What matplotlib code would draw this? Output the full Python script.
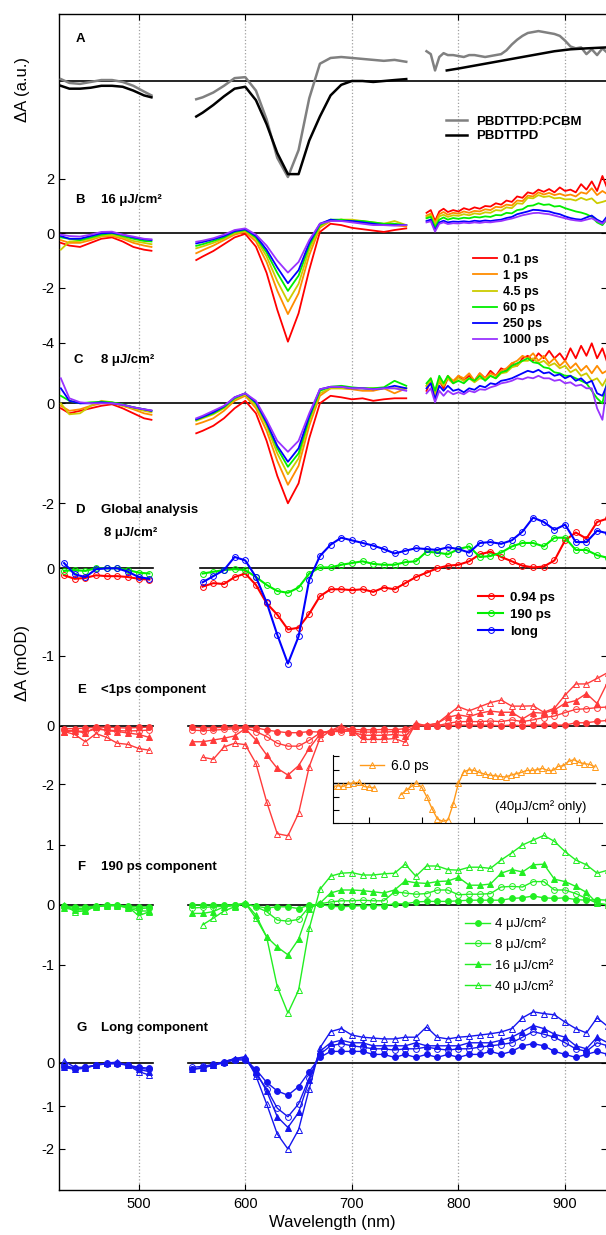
import matplotlib.pyplot as plt

plt.rcParams['font.family'] = ['Liberation Sans', 'DejaVu Sans']
plt.rcParams['axes.unicode_minus'] = False

W, H = 606, 1235
BOX_L, BOX_R, BOX_T, BOX_B = 58.5, 607, 14, 1190
XLIM = (424.8, 939.3)


def fx(px):
    return px / W


def fy(py):
    return 1 - py / H


# ---------------- data ----------------
# measured spectra (B, C) and steady-state (A)
w1 = [427, 435, 445, 455, 465, 475, 485, 495, 505, 512]
w2 = [554, 560, 570, 580, 590, 600, 610, 620, 630, 640, 650, 660, 670, 680,
      690, 700, 710, 720, 730, 740, 751]
w3 = [770, 774, 778, 782, 786, 790, 795, 800, 805, 810, 815, 820, 825, 830,
      835, 840, 845, 850, 855, 860, 865, 870, 875, 880, 885, 890, 895, 900,
      905, 910, 915, 920, 925, 930, 935, 939]
w3_black = [789, 800, 815, 830, 845, 860, 875, 890, 905, 920, 939]

a_blend = [[0.02, -0.02, -0.03, -0.01, 0.01, 0.01, -0.01, -0.05, -0.11, -0.15],
           [-0.19, -0.17, -0.12, -0.05, 0.03, 0.04, -0.1, -0.4, -0.8, -1.0, -0.72,
            -0.18, 0.18, 0.24, 0.25, 0.24, 0.23, 0.22, 0.21, 0.22, 0.2],
           [0.31, 0.28, 0.11, 0.25, 0.29, 0.27, 0.27, 0.26, 0.25, 0.27, 0.27, 0.26,
            0.25, 0.26, 0.27, 0.28, 0.32, 0.38, 0.43, 0.47, 0.5, 0.51, 0.52, 0.51,
            0.5, 0.49, 0.47, 0.42, 0.36, 0.34, 0.35, 0.28, 0.33, 0.27, 0.34, 0.3]]
a_pure = [[-0.05, -0.08, -0.08, -0.07, -0.05, -0.05, -0.06, -0.1, -0.15, -0.17],
          [-0.37, -0.33, -0.25, -0.16, -0.08, -0.06, -0.2, -0.45, -0.75, -0.97, -0.97,
           -0.62, -0.37, -0.15, -0.04, 0.0, 0.0, -0.01, 0.0, 0.01, 0.02],
          [0.11, 0.13, 0.16, 0.19, 0.22, 0.25, 0.28, 0.31, 0.33, 0.34, 0.35]]

delays = ['0.1 ps', '1 ps', '4.5 ps', '60 ps', '250 ps', '1000 ps']
delay_colors = ['#ff0000', '#ff8c00', '#cccc00', '#00ee00', '#0000ff', '#9933ff']

b_spectra = [
    [[-0.35, -0.45, -0.5, -0.35, -0.2, -0.15, -0.3, -0.5, -0.6, -0.64],
     [-0.98, -0.85, -0.65, -0.4, -0.15, -0.02, -0.49, -1.45, -2.8, -3.97, -2.93,
      -1.34, 0.05, 0.35, 0.3, 0.2, 0.15, 0.1, 0.05, 0.12, 0.18],
     [0.75, 0.85, 0.45, 0.8, 0.9, 0.78, 0.85, 0.8, 0.92, 0.86, 0.95, 0.9, 1.0,
      0.98, 1.1, 1.05, 1.2, 1.15, 1.35, 1.3, 1.5, 1.45, 1.6, 1.52, 1.62, 1.5,
      1.68, 1.55, 1.6, 1.5, 1.8, 1.6, 1.9, 1.55, 2.1, 1.7]],
    [[-0.25, -0.35, -0.35, -0.25, -0.12, -0.1, -0.2, -0.35, -0.45, -0.5],
     [-0.73, -0.62, -0.45, -0.25, -0.05, 0.05, -0.3, -1.05, -2.1, -2.96, -2.2,
      -0.8, 0.2, 0.45, 0.5, 0.45, 0.4, 0.35, 0.3, 0.3, 0.25],
     [0.65, 0.72, 0.38, 0.7, 0.78, 0.68, 0.75, 0.72, 0.8, 0.75, 0.82, 0.8, 0.88,
      0.85, 0.97, 0.95, 1.05, 1.02, 1.2, 1.18, 1.38, 1.35, 1.5, 1.42, 1.48, 1.4,
      1.45, 1.38, 1.42, 1.35, 1.5, 1.45, 1.65, 1.4, 1.55, 1.45]],
    [[-0.6, -0.3, -0.28, -0.2, -0.1, -0.05, -0.15, -0.28, -0.35, -0.4],
     [-0.55, -0.48, -0.35, -0.2, 0.0, 0.1, -0.2, -0.85, -1.75, -2.5, -1.85,
      -0.6, 0.25, 0.45, 0.5, 0.5, 0.45, 0.4, 0.35, 0.45, 0.3],
     [0.6, 0.66, 0.32, 0.62, 0.68, 0.6, 0.66, 0.64, 0.7, 0.66, 0.73, 0.7, 0.77,
      0.75, 0.85, 0.83, 0.95, 0.92, 1.1, 1.08, 1.3, 1.28, 1.4, 1.33, 1.36, 1.28,
      1.3, 1.24, 1.25, 1.2, 1.3, 1.22, 1.28, 1.1, 1.15, 1.2]],
    [[-0.15, -0.2, -0.25, -0.15, -0.05, 0.0, -0.1, -0.2, -0.28, -0.3],
     [-0.46, -0.4, -0.28, -0.15, 0.05, 0.12, -0.15, -0.7, -1.45, -2.11, -1.55,
      -0.45, 0.3, 0.5, 0.5, 0.45, 0.45, 0.4, 0.35, 0.35, 0.3],
     [0.55, 0.6, 0.22, 0.5, 0.58, 0.5, 0.56, 0.53, 0.57, 0.55, 0.6, 0.58, 0.62,
      0.6, 0.67, 0.66, 0.75, 0.73, 0.85, 0.88, 1.0, 1.02, 1.1, 1.04, 1.06, 0.98,
      1.0, 0.92, 0.86, 0.8, 0.76, 0.7, 0.6, 0.4, 0.3, 0.5]],
    [[-0.1, -0.2, -0.2, -0.1, 0.0, 0.02, -0.05, -0.15, -0.22, -0.25],
     [-0.37, -0.32, -0.22, -0.1, 0.08, 0.15, -0.1, -0.6, -1.25, -1.83, -1.35,
      -0.35, 0.35, 0.5, 0.45, 0.45, 0.4, 0.35, 0.3, 0.3, 0.3],
     [0.45, 0.5, 0.12, 0.4, 0.46, 0.4, 0.43, 0.42, 0.44, 0.42, 0.46, 0.44, 0.47,
      0.45, 0.48, 0.5, 0.56, 0.6, 0.7, 0.75, 0.8, 0.86, 0.85, 0.82, 0.8, 0.74,
      0.7, 0.62, 0.56, 0.52, 0.5, 0.58, 0.65, 0.5, 0.4, 0.6]],
    [[-0.05, -0.1, -0.12, -0.05, 0.05, 0.06, -0.05, -0.12, -0.2, -0.22],
     [-0.31, -0.27, -0.18, -0.05, 0.12, 0.18, -0.05, -0.45, -1.0, -1.44, -1.05,
      -0.25, 0.35, 0.45, 0.45, 0.4, 0.35, 0.3, 0.3, 0.28, 0.3],
     [0.4, 0.44, 0.06, 0.35, 0.4, 0.34, 0.37, 0.36, 0.39, 0.37, 0.4, 0.38, 0.41,
      0.4, 0.43, 0.45, 0.5, 0.54, 0.6, 0.66, 0.7, 0.74, 0.75, 0.72, 0.7, 0.65,
      0.6, 0.55, 0.5, 0.47, 0.45, 0.5, 0.55, 0.45, 0.35, 0.5]],
]

c_spectra = [
    [[-0.1, -0.2, -0.15, -0.1, -0.05, -0.02, -0.1, -0.2, -0.3, -0.33],
     [-0.6, -0.55, -0.45, -0.3, -0.1, 0.05, -0.2, -0.75, -1.45, -2.0, -1.6,
      -0.7, 0.0, 0.15, 0.12, 0.08, 0.1, 0.05, 0.08, 0.1, 0.1],
     [0.25, 0.45, 0.15, 0.45, 0.3, 0.5, 0.4, 0.55, 0.45, 0.55, 0.45, 0.6, 0.5,
      0.65, 0.55, 0.7, 0.65, 0.8, 0.75, 0.9, 0.95, 0.85, 1.0, 0.9, 1.05, 0.9,
      1.0, 0.85, 1.1, 0.9, 1.15, 0.95, 1.2, 0.9, 1.1, 0.85]],
    [[-0.05, -0.15, -0.12, -0.05, 0.0, 0.0, -0.05, -0.12, -0.2, -0.23],
     [-0.42, -0.38, -0.3, -0.15, 0.05, 0.15, -0.1, -0.55, -1.15, -1.63, -1.25,
      -0.45, 0.15, 0.3, 0.3, 0.28, 0.25, 0.25, 0.3, 0.2, 0.3],
     [0.35, 0.5, 0.2, 0.5, 0.35, 0.55, 0.45, 0.55, 0.5, 0.6, 0.45, 0.6, 0.5,
      0.6, 0.55, 0.65, 0.7, 0.8, 0.85, 0.95, 0.9, 1.0, 0.85, 0.95, 0.8, 0.9,
      0.75, 0.85, 0.7, 0.8, 0.65, 0.75, 0.6, 0.75, 0.6, 0.65]],
    [[0.0, -0.22, -0.2, -0.05, 0.05, 0.02, -0.05, -0.1, -0.15, -0.18],
     [-0.35, -0.3, -0.22, -0.1, 0.08, 0.18, -0.05, -0.45, -1.0, -1.42, -1.1,
      -0.35, 0.2, 0.3, 0.3, 0.3, 0.3, 0.3, 0.3, 0.3, 0.3],
     [0.35, 0.45, 0.15, 0.45, 0.35, 0.5, 0.4, 0.5, 0.45, 0.5, 0.42, 0.5, 0.48,
      0.55, 0.5, 0.6, 0.62, 0.72, 0.75, 0.85, 0.85, 0.9, 0.8, 0.85, 0.75, 0.8,
      0.7, 0.75, 0.62, 0.68, 0.55, 0.6, 0.45, 0.5, 0.35, 0.5]],
    [[0.15, 0.05, 0.0, 0.02, 0.03, 0.02, -0.02, -0.08, -0.12, -0.15],
     [-0.33, -0.28, -0.2, -0.08, 0.1, 0.2, 0.0, -0.4, -0.9, -1.27, -1.0,
      -0.3, 0.25, 0.33, 0.35, 0.32, 0.3, 0.3, 0.32, 0.45, 0.35],
     [0.4, 0.5, 0.25, 0.55, 0.4, 0.55, 0.4, 0.45, 0.4, 0.5, 0.45, 0.55, 0.45,
      0.55, 0.5, 0.62, 0.65, 0.75, 0.8, 0.85, 0.9, 0.82, 0.8, 0.72, 0.7, 0.62,
      0.6, 0.55, 0.55, 0.5, 0.45, 0.4, 0.25, 0.1, 0.0, 0.4]],
    [[0.3, 0.05, 0.0, 0.0, 0.02, 0.0, -0.03, -0.08, -0.12, -0.15],
     [-0.32, -0.27, -0.18, -0.06, 0.12, 0.2, 0.02, -0.38, -0.85, -1.17, -0.9,
      -0.25, 0.28, 0.33, 0.33, 0.3, 0.3, 0.28, 0.3, 0.35, 0.3],
     [0.3, 0.4, 0.08, 0.35, 0.25, 0.35, 0.25, 0.28, 0.22, 0.3, 0.27, 0.35, 0.32,
      0.4, 0.38, 0.45, 0.47, 0.5, 0.55, 0.6, 0.65, 0.62, 0.67, 0.6, 0.62, 0.55,
      0.58, 0.5, 0.55, 0.45, 0.5, 0.4, 0.45, 0.2, 0.15, 0.35]],
    [[0.5, 0.1, 0.02, 0.0, 0.0, 0.0, -0.03, -0.08, -0.12, -0.14],
     [-0.3, -0.25, -0.15, -0.05, 0.12, 0.2, 0.05, -0.33, -0.75, -0.97, -0.75,
      -0.2, 0.28, 0.33, 0.33, 0.3, 0.3, 0.28, 0.3, 0.3, 0.25],
     [0.2, 0.3, 0.02, 0.25, 0.15, 0.25, 0.18, 0.22, 0.18, 0.25, 0.22, 0.28, 0.27,
      0.32, 0.35, 0.4, 0.42, 0.45, 0.5, 0.48, 0.52, 0.5, 0.55, 0.5, 0.5, 0.45,
      0.47, 0.4, 0.42, 0.35, 0.37, 0.3, 0.3, -0.1, -0.33, 0.3]],
]

# global analysis (D) and fluence series (E, F, G)
g1 = [430, 440, 450, 460, 470, 480, 490, 500, 510]
gd2 = [560, 570, 580, 590, 600, 610, 620, 630, 640, 650, 660, 670, 680, 690,
       700, 710, 720, 730, 740, 750, 760, 770, 780, 790, 800, 810, 820, 830,
       840, 850, 860, 870, 880, 890, 900, 910, 920, 930, 940]
g2 = [550] + gd2

das_names = ['0.94 ps', '190 ps', 'long']
das_colors = ['#ff0000', '#00ee00', '#0000ff']
das1 = [[-0.08, -0.12, -0.11, -0.08, -0.09, -0.09, -0.1, -0.12, -0.13],
        [-0.03, -0.02, -0.03, -0.0, -0.0, -0.0, -0.02, -0.05, -0.06],
        [0.06, -0.07, -0.1, -0.01, 0.0, 0.0, -0.04, -0.1, -0.12]]
das2 = [[-0.21, -0.17, -0.18, -0.1, -0.06, -0.19, -0.4, -0.53, -0.7, -0.68,
         -0.52, -0.32, -0.24, -0.24, -0.25, -0.24, -0.27, -0.22, -0.24, -0.17,
         -0.1, -0.05, 0.0, 0.03, 0.04, 0.08, 0.16, 0.19, 0.13, 0.08, 0.03, 0.01,
         0.02, 0.09, 0.32, 0.41, 0.34, 0.53, 0.57],
        [-0.06, -0.04, -0.02, -0.01, -0.02, -0.1, -0.19, -0.26, -0.28, -0.22,
         -0.06, 0.01, 0.01, 0.04, 0.06, 0.08, 0.05, 0.04, 0.04, 0.07, 0.08, 0.19,
         0.18, 0.16, 0.22, 0.25, 0.13, 0.14, 0.18, 0.25, 0.29, 0.29, 0.25, 0.35,
         0.35, 0.21, 0.21, 0.15, 0.12],
        [-0.16, -0.09, -0.02, 0.13, 0.09, -0.1, -0.39, -0.76, -1.09, -0.78,
         -0.13, 0.14, 0.27, 0.35, 0.32, 0.29, 0.26, 0.22, 0.17, 0.2, 0.23, 0.22,
         0.21, 0.24, 0.22, 0.18, 0.29, 0.3, 0.28, 0.32, 0.42, 0.58, 0.53, 0.44,
         0.5, 0.3, 0.3, 0.43, 0.4]]

fluences = ['4 \u03bcJ/cm\u00b2', '8 \u03bcJ/cm\u00b2', '16 \u03bcJ/cm\u00b2',
            '40 \u03bcJ/cm\u00b2']

e1 = [[-0.1, -0.1, -0.08, -0.05, -0.05, -0.07, -0.08, -0.06, -0.05],
      [-0.15, -0.18, -0.2, -0.12, -0.15, -0.17, -0.18, -0.17, -0.15],
      [-0.2, -0.18, -0.25, -0.05, -0.17, -0.2, -0.25, -0.3, -0.4],
      [-0.2, -0.3, -0.55, -0.27, -0.4, -0.6, -0.64, -0.78, -0.84]]
e2 = [[-0.05, -0.07, -0.07, -0.06, -0.05, -0.05, -0.07, -0.15, -0.2, -0.24,
       -0.24, -0.2, -0.22, -0.2, -0.15, -0.13, -0.14, -0.14, -0.13, -0.14,
       -0.1, 0.02, 0.0, 0.0, 0.0, 0.02, 0.02, 0.02, 0.02, 0.0, 0.02, 0.0, 0.02,
       0.02, 0.02, 0.02, 0.1, 0.1, 0.15, 0.18],
      [-0.15, -0.17, -0.15, -0.13, -0.1, -0.07, -0.2, -0.37, -0.6, -0.7, -0.7,
       -0.5, -0.25, -0.2, -0.2, -0.18, -0.22, -0.22, -0.22, -0.2, -0.22, 0.0,
       0.0, 0.0, 0.08, 0.14, 0.14, 0.14, 0.16, 0.14, 0.2, 0.14, 0.2, 0.28, 0.33,
       0.45, 0.56, 0.58, 0.62, 0.64],
      [-0.55, -0.55, -0.49, -0.43, -0.35, -0.1, -0.49, -1.0, -1.46, -1.69,
       -1.37, -0.77, -0.3, -0.15, -0.1, -0.2, -0.33, -0.33, -0.33, -0.3, -0.35,
       0.0, 0.02, 0.08, 0.29, 0.37, 0.31, 0.43, 0.5, 0.46, 0.46, 0.23, 0.45,
       0.43, 0.54, 0.77, 0.86, 1.1, 0.76, 1.5],
      [-1.08, -1.15, -0.73, -0.6, -0.65, -1.29, -2.6, -3.7, -3.77, -3.0, -1.4,
       -0.43, -0.17, 0.0, -0.15, -0.47, -0.47, -0.47, -0.44, -0.57, 0.08, 0.0,
       0.08, 0.37, 0.65, 0.51, 0.65, 0.79, 0.88, 0.67, 0.67, 0.68, 0.46, 0.6,
       1.05, 1.43, 1.43, 1.62, 1.82]]

inset_w1 = [430, 440, 450, 460, 470, 480, 490, 500, 510]
inset_w2 = [560, 570, 580, 590, 600, 610, 620, 630, 640, 650, 660, 670, 680,
            690, 700, 710, 720, 730, 740, 750, 760, 770, 780, 790, 800, 810,
            820, 830, 840, 850, 860, 870, 880, 890, 900, 910, 920, 930]
inset1 = [-0.25, -0.2, -0.25, -0.05, 0.0, 0.07, -0.25, -0.3, -0.35]
inset2 = [-0.87, -0.55, -0.25, 0.0, -0.3, -1.05, -1.93, -2.68, -2.85, -2.75,
          -1.55, 0.0, 0.83, 1.0, 0.95, 0.8, 0.67, 0.6, 0.55, 0.5, 0.45, 0.6,
          0.7, 0.8, 0.95, 0.95, 1.0, 1.1, 0.95, 0.95, 1.25, 1.3, 1.63, 1.75,
          1.55, 1.45, 1.4, 1.22]

f1 = [[-0.02, -0.03, -0.03, -0.02, 0.0, 0.0, -0.02, -0.03, -0.03],
      [-0.03, -0.06, -0.06, -0.03, -0.01, -0.01, -0.04, -0.06, -0.05],
      [-0.05, -0.08, -0.08, -0.03, -0.01, -0.01, -0.05, -0.1, -0.1],
      [0.0, -0.11, -0.1, -0.02, 0.0, 0.0, -0.03, -0.18, -0.11]]
f2 = [[0.0, 0.0, 0.0, 0.0, 0.0, 0.02, -0.02, -0.05, -0.03, -0.03, -0.06, 0.0,
       0.01, -0.02, -0.03, -0.02, -0.01, -0.01, -0.01, 0.02, 0.02, 0.05, 0.06,
       0.06, 0.06, 0.07, 0.08, 0.08, 0.08, 0.08, 0.11, 0.12, 0.15, 0.12, 0.11,
       0.12, 0.09, 0.08, 0.09, 0.08],
      [-0.05, -0.04, -0.03, -0.02, 0.0, 0.02, -0.03, -0.11, -0.25, -0.27,
       -0.24, -0.03, 0.02, 0.05, 0.07, 0.07, 0.08, 0.07, 0.07, 0.22, 0.2, 0.18,
       0.19, 0.25, 0.25, 0.17, 0.18, 0.18, 0.19, 0.3, 0.31, 0.3, 0.39, 0.39,
       0.25, 0.25, 0.19, 0.11, 0.03, 0.0],
      [-0.14, -0.14, -0.11, -0.03, -0.01, 0.04, -0.17, -0.53, -0.7, -0.83,
       -0.57, -0.06, 0.03, 0.2, 0.25, 0.25, 0.24, 0.22, 0.2, 0.25, 0.4, 0.37,
       0.36, 0.39, 0.4, 0.46, 0.33, 0.33, 0.35, 0.53, 0.59, 0.55, 0.67, 0.68,
       0.43, 0.39, 0.31, 0.21, 0.03, 0.0],
      [-0.33, -0.22, -0.1, -0.03, 0.03, -0.22, -0.53, -1.36, -1.8, -1.42,
       -0.39, 0.26, 0.48, 0.53, 0.54, 0.5, 0.5, 0.52, 0.53, 0.68, 0.48, 0.65,
       0.65, 0.59, 0.58, 0.63, 0.63, 0.61, 0.75, 0.87, 1.0, 1.08, 1.16, 1.06,
       0.89, 0.75, 0.67, 0.53, 0.58]]

g_1 = [[-0.1, -0.12, -0.1, -0.05, -0.02, -0.02, -0.05, -0.1, -0.12],
       [-0.05, -0.12, -0.1, -0.05, 0.0, 0.0, -0.05, -0.12, -0.15],
       [-0.1, -0.15, -0.12, -0.05, 0.0, 0.0, -0.05, -0.15, -0.2],
       [0.05, -0.1, -0.1, -0.05, 0.0, 0.02, -0.05, -0.2, -0.28]]
g_2 = [[-0.15, -0.1, -0.05, 0.0, 0.07, 0.07, -0.15, -0.45, -0.65, -0.75, -0.55,
        -0.2, 0.13, 0.27, 0.27, 0.27, 0.27, 0.2, 0.2, 0.13, 0.2, 0.13, 0.2, 0.13,
        0.2, 0.13, 0.2, 0.2, 0.27, 0.2, 0.27, 0.4, 0.45, 0.4, 0.27, 0.2, 0.13,
        0.2, 0.27, 0.2],
       [-0.1, -0.08, -0.03, 0.03, 0.08, 0.1, -0.25, -0.6, -1.05, -1.25, -0.95,
        -0.35, 0.2, 0.4, 0.45, 0.4, 0.37, 0.33, 0.33, 0.3, 0.33, 0.33, 0.37,
        0.33, 0.3, 0.33, 0.33, 0.37, 0.4, 0.43, 0.47, 0.6, 0.73, 0.67, 0.6,
        0.47, 0.33, 0.27, 0.47, 0.4],
       [-0.15, -0.12, -0.05, 0.03, 0.1, 0.13, -0.2, -0.65, -1.25, -1.5, -1.15,
        -0.4, 0.27, 0.47, 0.53, 0.47, 0.47, 0.4, 0.4, 0.4, 0.4, 0.47, 0.4, 0.4,
        0.4, 0.4, 0.47, 0.47, 0.47, 0.53, 0.6, 0.73, 0.87, 0.8, 0.67, 0.6, 0.4,
        0.33, 0.6, 0.47],
       [-0.1, -0.05, 0.03, 0.1, 0.15, -0.3, -0.95, -1.65, -2.0, -1.55, -0.6,
        0.35, 0.73, 0.8, 0.65, 0.6, 0.58, 0.56, 0.56, 0.6, 0.6, 0.84, 0.6, 0.56,
        0.6, 0.62, 0.65, 0.68, 0.72, 0.8, 1.05, 1.19, 1.15, 1.12, 0.95, 0.8,
        0.7, 1.05, 0.85]]

# ---------------- figure ----------------
fig = plt.figure(figsize=(W / 100, H / 100), dpi=100)
rect = [fx(BOX_L), fy(BOX_B), fx(BOX_R - BOX_L), (BOX_B - BOX_T) / H]

ax0 = fig.add_axes(rect)
ax0.set_xlim(XLIM)
ax0.set_ylim(0, 1)
ax0.set_yticks([])
ax0.set_xticks([500, 600, 700, 800, 900])
ax0.tick_params(axis='x', direction='in', top=True, length=4, labelsize=10.5, pad=5)
ax0.grid(axis='x', linestyle=':', color='#a0a0a0', linewidth=0.9)
ax0.set_xlabel('Wavelength (nm)', fontsize=12, labelpad=3)
for s in ax0.spines.values():
    s.set_linewidth(1.0)


def panel(y0, scale, ticks):
    ax = fig.add_axes(rect, sharex=ax0)
    ax.patch.set_visible(False)
    for s in ax.spines.values():
        s.set_visible(False)
    ax.set_ylim(-(BOX_B - y0) / scale, (y0 - BOX_T) / scale)
    ax.set_yticks(ticks)
    ax.tick_params(axis='y', direction='in', right=True, length=4, labelsize=10.5, pad=3)
    ax.tick_params(axis='x', bottom=False, labelbottom=False)
    return ax


def zero(ax, spans, lw=1.2, color='k'):
    for a, b in spans:
        ax.plot([a, b], [0, 0], color=color, lw=lw, zorder=1)


full = [(XLIM[0], XLIM[1])]
split = [(427.5, 513.5), (546, XLIM[1])]

# A
axA = panel(81, 96, [])
zero(axA, full)
for segs, ws, col, lab in [(a_blend, [w1, w2, w3], '#808080', 'PBDTTPD:PCBM'),
                           (a_pure, [w1, w2, w3_black], '#000000', 'PBDTTPD')]:
    for i, (w, v) in enumerate(zip(ws, segs)):
        axA.plot(w, v, color=col, lw=1.8, label=lab if i == 0 else None)
axA.legend(loc='center left', bbox_to_anchor=(fx(446), fy(129)),
           bbox_transform=fig.transFigure, frameon=False, borderpad=0,
           borderaxespad=0, handlelength=1.6, handletextpad=0.7, labelspacing=0.15,
           prop={'weight': 'bold', 'size': 9.5})

# B and C
for y0, scale, ticks, data in [(233.3, 27.3, [2, 0, -2, -4], b_spectra),
                               (403.3, 50, [0, -2], c_spectra)]:
    ax = panel(y0, scale, ticks)
    zero(ax, full)
    for k, segs in enumerate(data):
        for i, (w, v) in enumerate(zip([w1, w2, w3], segs)):
            ax.plot(w, v, color=delay_colors[k], lw=1.3,
                    label=delays[k] if i == 0 else None)
    if data is b_spectra:
        ax.legend(loc='center left', bbox_to_anchor=(fx(473), fy(300)),
                  bbox_transform=fig.transFigure, frameon=False, borderpad=0,
                  borderaxespad=0, handlelength=1.9, handletextpad=0.5,
                  labelspacing=0.33, prop={'weight': 'bold', 'size': 9})

# D
axD = panel(568.3, 87.4, [0, -1])
zero(axD, [(427.5, 513.5), (557.5, XLIM[1])])
for k in range(3):
    axD.plot(g1, das1[k], color=das_colors[k], lw=1.5, marker='o', ms=4.2,
             mfc='none', mew=0.7)
    axD.plot(gd2, das2[k], color=das_colors[k], lw=1.5, marker='o', ms=4.2,
             mfc='none', mew=0.7, label=das_names[k])
axD.legend(loc='center left', bbox_to_anchor=(fx(478), fy(614.5)),
           bbox_transform=fig.transFigure, frameon=False, borderpad=0,
           borderaxespad=0, handlelength=1.9, handletextpad=0.5,
           labelspacing=0.36, prop={'weight': 'bold', 'size': 9.5})

styles = [('o', True), ('o', False), ('^', True), ('^', False)]


def fluence_panel(y0, scale, ticks, seg1, seg2, color):
    ax = panel(y0, scale, ticks)
    zero(ax, split)
    for k in range(4):
        mk, filled = styles[k]
        st = dict(marker=mk, ms=4.2, mew=0.7)
        if not filled:
            st['mfc'] = 'none'
        w2k = g2 if len(seg2[k]) == len(g2) else gd2
        ax.plot(g1, seg1[k], color=color, lw=1.0, **st)
        ax.plot(w2k, seg2[k], color=color, lw=1.0, label=fluences[k], **st)
    return ax


axE = fluence_panel(725.7, 29.2, [0, -2], e1, e2, '#ff3a3a')
axF = fluence_panel(905, 60, [1, 0, -1], f1, f2, '#22ee22')
axG = fluence_panel(1063, 43, [0, -1, -2], g_1, g_2, '#1515ee')
axF.legend(loc='center left', bbox_to_anchor=(fx(465), fy(955)),
           bbox_transform=fig.transFigure, frameon=False, borderpad=0,
           borderaxespad=0, handlelength=1.9, handletextpad=0.4,
           labelspacing=0.6, prop={'size': 9.5})

# inset of panel E
axi = fig.add_axes([fx(333), fy(823.3), fx(601.7 - 333), (823.3 - 755) / H])
axi.patch.set_visible(False)
axi.spines['top'].set_visible(False)
axi.spines['right'].set_visible(False)
axi.set_xlim(431, 943)
axi.set_ylim(-3, 2.1)
axi.set_xticks([500, 600, 700, 800, 900])
axi.set_yticks([-3, -2, -1, 0, 1, 2])
axi.tick_params(direction='in', length=4, labelleft=False, labelbottom=False)
axi.plot([431, 930], [0, 0], color='k', lw=1.0)
axi.plot(inset_w1, inset1, color='#ff9a1a', lw=1.0, marker='^', ms=4, mfc='none', mew=0.7)
axi.plot(inset_w2, inset2, color='#ff9a1a', lw=1.0, marker='^', ms=4, mfc='none',
         mew=0.7, label='6.0 ps')
axi.legend(loc='center left', bbox_to_anchor=(fx(360), fy(766)),
           bbox_transform=fig.transFigure, frameon=False, borderpad=0,
           borderaxespad=0, handlelength=1.7, handletextpad=0.5, prop={'size': 10})
fig.text(fx(495), fy(806.5), '(40\u03bcJ/cm\u00b2 only)', fontsize=9.5, va='center')

# panel titles
titles = [(76, 39.3, 'A', None), (75, 200, 'B', '16 \u03bcJ/cm\u00b2'),
          (74, 360, 'C', '8 \u03bcJ/cm\u00b2'), (75, 510, 'D', 'Global analysis'),
          (77, 690, 'E', '<1ps component'), (77, 866.7, 'F', '190 ps component'),
          (76.7, 1028, 'G', 'Long component')]
for x, y, letter, rest in titles:
    fig.text(fx(x), fy(y), letter, fontsize=9.5, weight='bold', va='center')
    if rest:
        fig.text(fx(101), fy(y), rest, fontsize=9.5, weight='bold', va='center')
fig.text(fx(104), fy(532.7), '8 \u03bcJ/cm\u00b2', fontsize=9.5, weight='bold', va='center')

fig.text(fx(23), fy(90), '\u0394A (a.u.)', rotation=90, fontsize=12,
         ha='center', va='center')
fig.text(fx(23), fy(663), '\u0394A (mOD)', rotation=90, fontsize=12,
         ha='center', va='center')

fig.savefig('out.png', dpi=100)
